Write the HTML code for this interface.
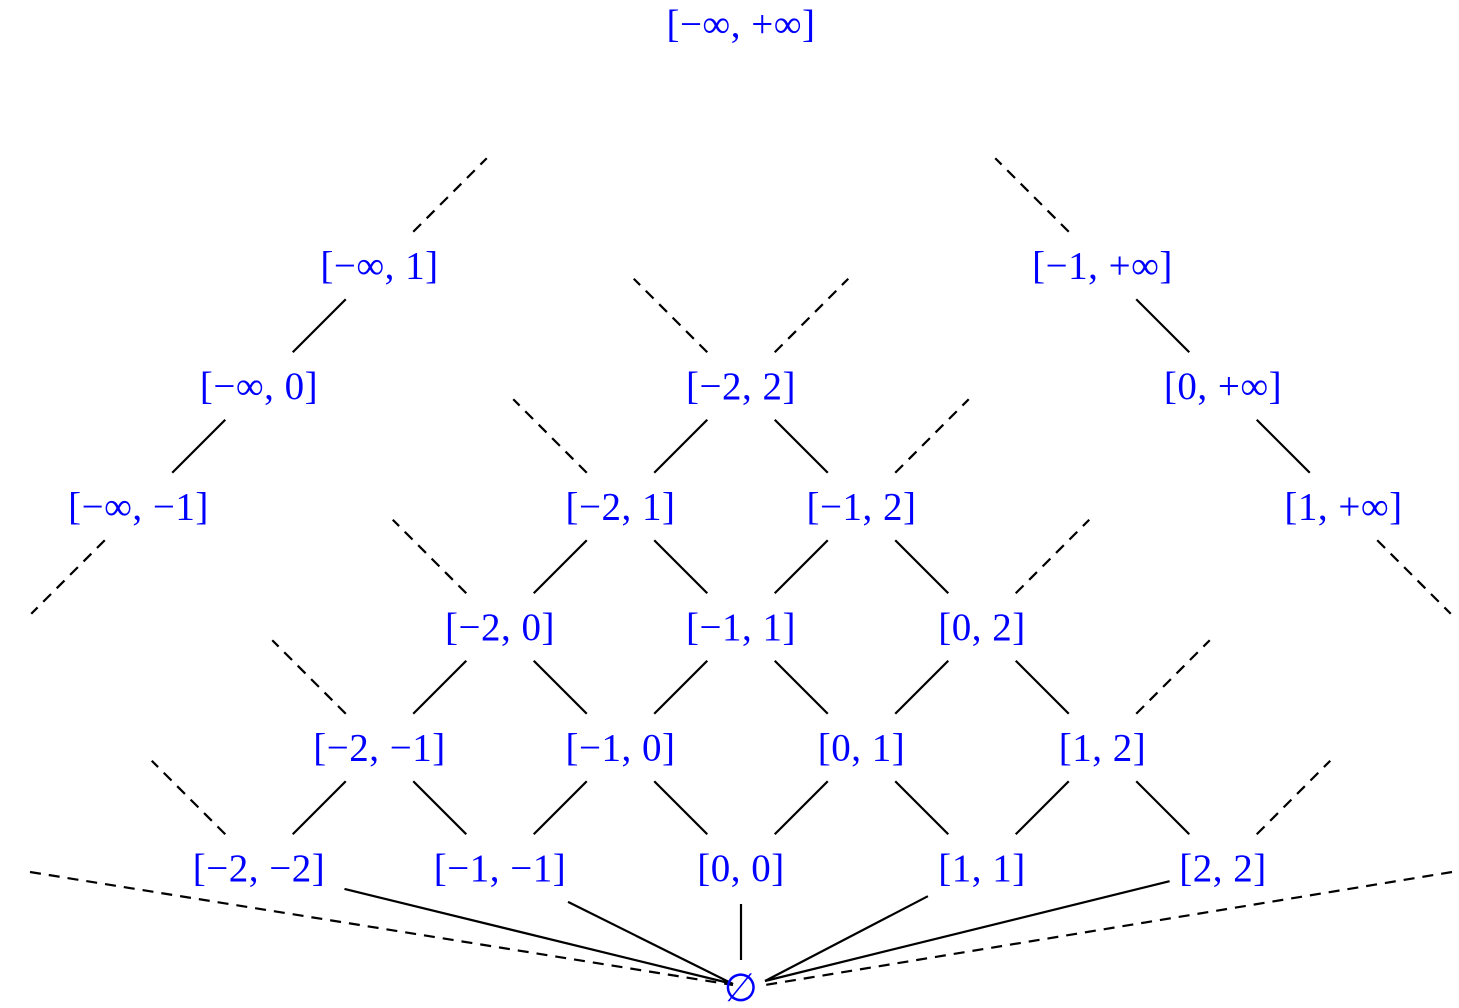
<!DOCTYPE html>
<html><head><meta charset="utf-8">
<style>
html,body{margin:0;padding:0;background:#fff;}
svg{display:block;}
text{font-family:"Liberation Serif",serif;font-size:39px;fill:#0000ff;letter-spacing:0.5px;}
</style></head>
<body>
<svg id="chart" width="1459" height="1008" viewBox="0 0 1459 1008" xmlns="http://www.w3.org/2000/svg">
<g id="edges"></g>
<g id="labels"></g>
</svg>
<script>
// finite interval endpoints
const lows = [-2,-1,0,1,2];
const highs = [-2,-1,0,1,2];
// infinite chain nodes
const leftChainHighs = [-1,0,1];   // [-inf, b]
const rightChainLows = [1,0,-1];   // [a, +inf]

const S = 120.5, CX = 741, Y0 = 868;
const svgNS="http://www.w3.org/2000/svg";
const E=document.getElementById('edges'), L=document.getElementById('labels');
function fmt(v){ return v<0 ? '\u2212'+(-v) : ''+v; }
function line(x1,y1,x2,y2,dashed,name){
  const l=document.createElementNS(svgNS,'line');
  l.setAttribute('x1',x1);l.setAttribute('y1',y1);l.setAttribute('x2',x2);l.setAttribute('y2',y2);
  l.setAttribute('stroke','#000');l.setAttribute('stroke-width','2.2');
  if(dashed) l.setAttribute('stroke-dasharray','11 8');
  
  
  E.appendChild(l);
}
function seg(x1,y1,x2,y2,f0,f1,dashed,name){
  line(x1+(x2-x1)*f0,y1+(y2-y1)*f0,x1+(x2-x1)*f1,y1+(y2-y1)*f1,dashed,name);
}
function label(x,y,s){
  const t=document.createElementNS(svgNS,'text');
  t.setAttribute('x',x);t.setAttribute('y',y+13);t.setAttribute('text-anchor','middle');
  t.textContent=s;
  
  
  L.appendChild(t);
}
const f0=0.28,f1=0.72,fd=0.89;
function nx(a,b){return CX+(a+b)*S;}
function ny(a,b){return Y0-(b-a)*S;}
lows.forEach(a=>highs.forEach(b=>{
  if(a>b) return;
  const x=nx(a,b), y=ny(a,b);
  label(x,y,'['+fmt(a)+', '+fmt(b)+']');
  if(a<b){
    seg(x,y,nx(a+1,b),ny(a+1,b),f0,f1,false,'edge');
    seg(x,y,nx(a,b-1),ny(a,b-1),f0,f1,false,'edge');
  }
  if(a===lows[0]) seg(x,y,nx(a-1,b),ny(a-1,b),f0,fd,true,'dashed-edge');
  if(b===highs[highs.length-1]) seg(x,y,nx(a,b+1),ny(a,b+1),f0,fd,true,'dashed-edge');
}));
const leftPos = b => ({x: CX+(b-4)*S, y: Y0-(b+4)*S});
const rightPos = a => ({x: CX+(a+4)*S, y: Y0-(4-a)*S});
leftChainHighs.forEach((b,i)=>{
  const p=leftPos(b);
  label(p.x,p.y,'[\u2212\u221e, '+fmt(b)+']');
  if(i>0){const q=leftPos(leftChainHighs[i-1]); seg(p.x,p.y,q.x,q.y,f0,f1,false,'edge');}
});
rightChainLows.forEach((a,i)=>{
  const p=rightPos(a);
  label(p.x,p.y,'['+fmt(a)+', +\u221e]');
  if(i>0){const q=rightPos(rightChainLows[i-1]); seg(p.x,p.y,q.x,q.y,f0,f1,false,'edge');}
});
{const p=leftPos(leftChainHighs[0]); seg(p.x,p.y,p.x-S,p.y+S,f0,fd,true,'dashed-edge');}
{const p=leftPos(leftChainHighs[leftChainHighs.length-1]); seg(p.x,p.y,p.x+S,p.y-S,f0,fd,true,'dashed-edge');}
{const p=rightPos(rightChainLows[0]); seg(p.x,p.y,p.x+S,p.y+S,f0,fd,true,'dashed-edge');}
{const p=rightPos(rightChainLows[rightChainLows.length-1]); seg(p.x,p.y,p.x-S,p.y-S,f0,fd,true,'dashed-edge');}
label(CX,24,'[\u2212\u221e, +\u221e]');
label(CX,988,'\u2205');
const startDist=[88,76,36,61,55];
lows.forEach((a,i)=>{
  const x=nx(a,a), y=ny(a,a);
  const tx = a<0?733:(a>0?765:741), ty = a===0?960:(a<0?984:981);
  const dx=tx-x, dy=ty-y, len=Math.hypot(dx,dy);
  const s=startDist[i]/len;
  line(x+dx*s,y+dy*s,tx,ty,false,'edge-to-empty-set');
});
line(30,872,733,985,true,'dashed-edge-to-empty-set');
line(1452,872,765,985,true,'dashed-edge-to-empty-set');
</script>
</body></html>
